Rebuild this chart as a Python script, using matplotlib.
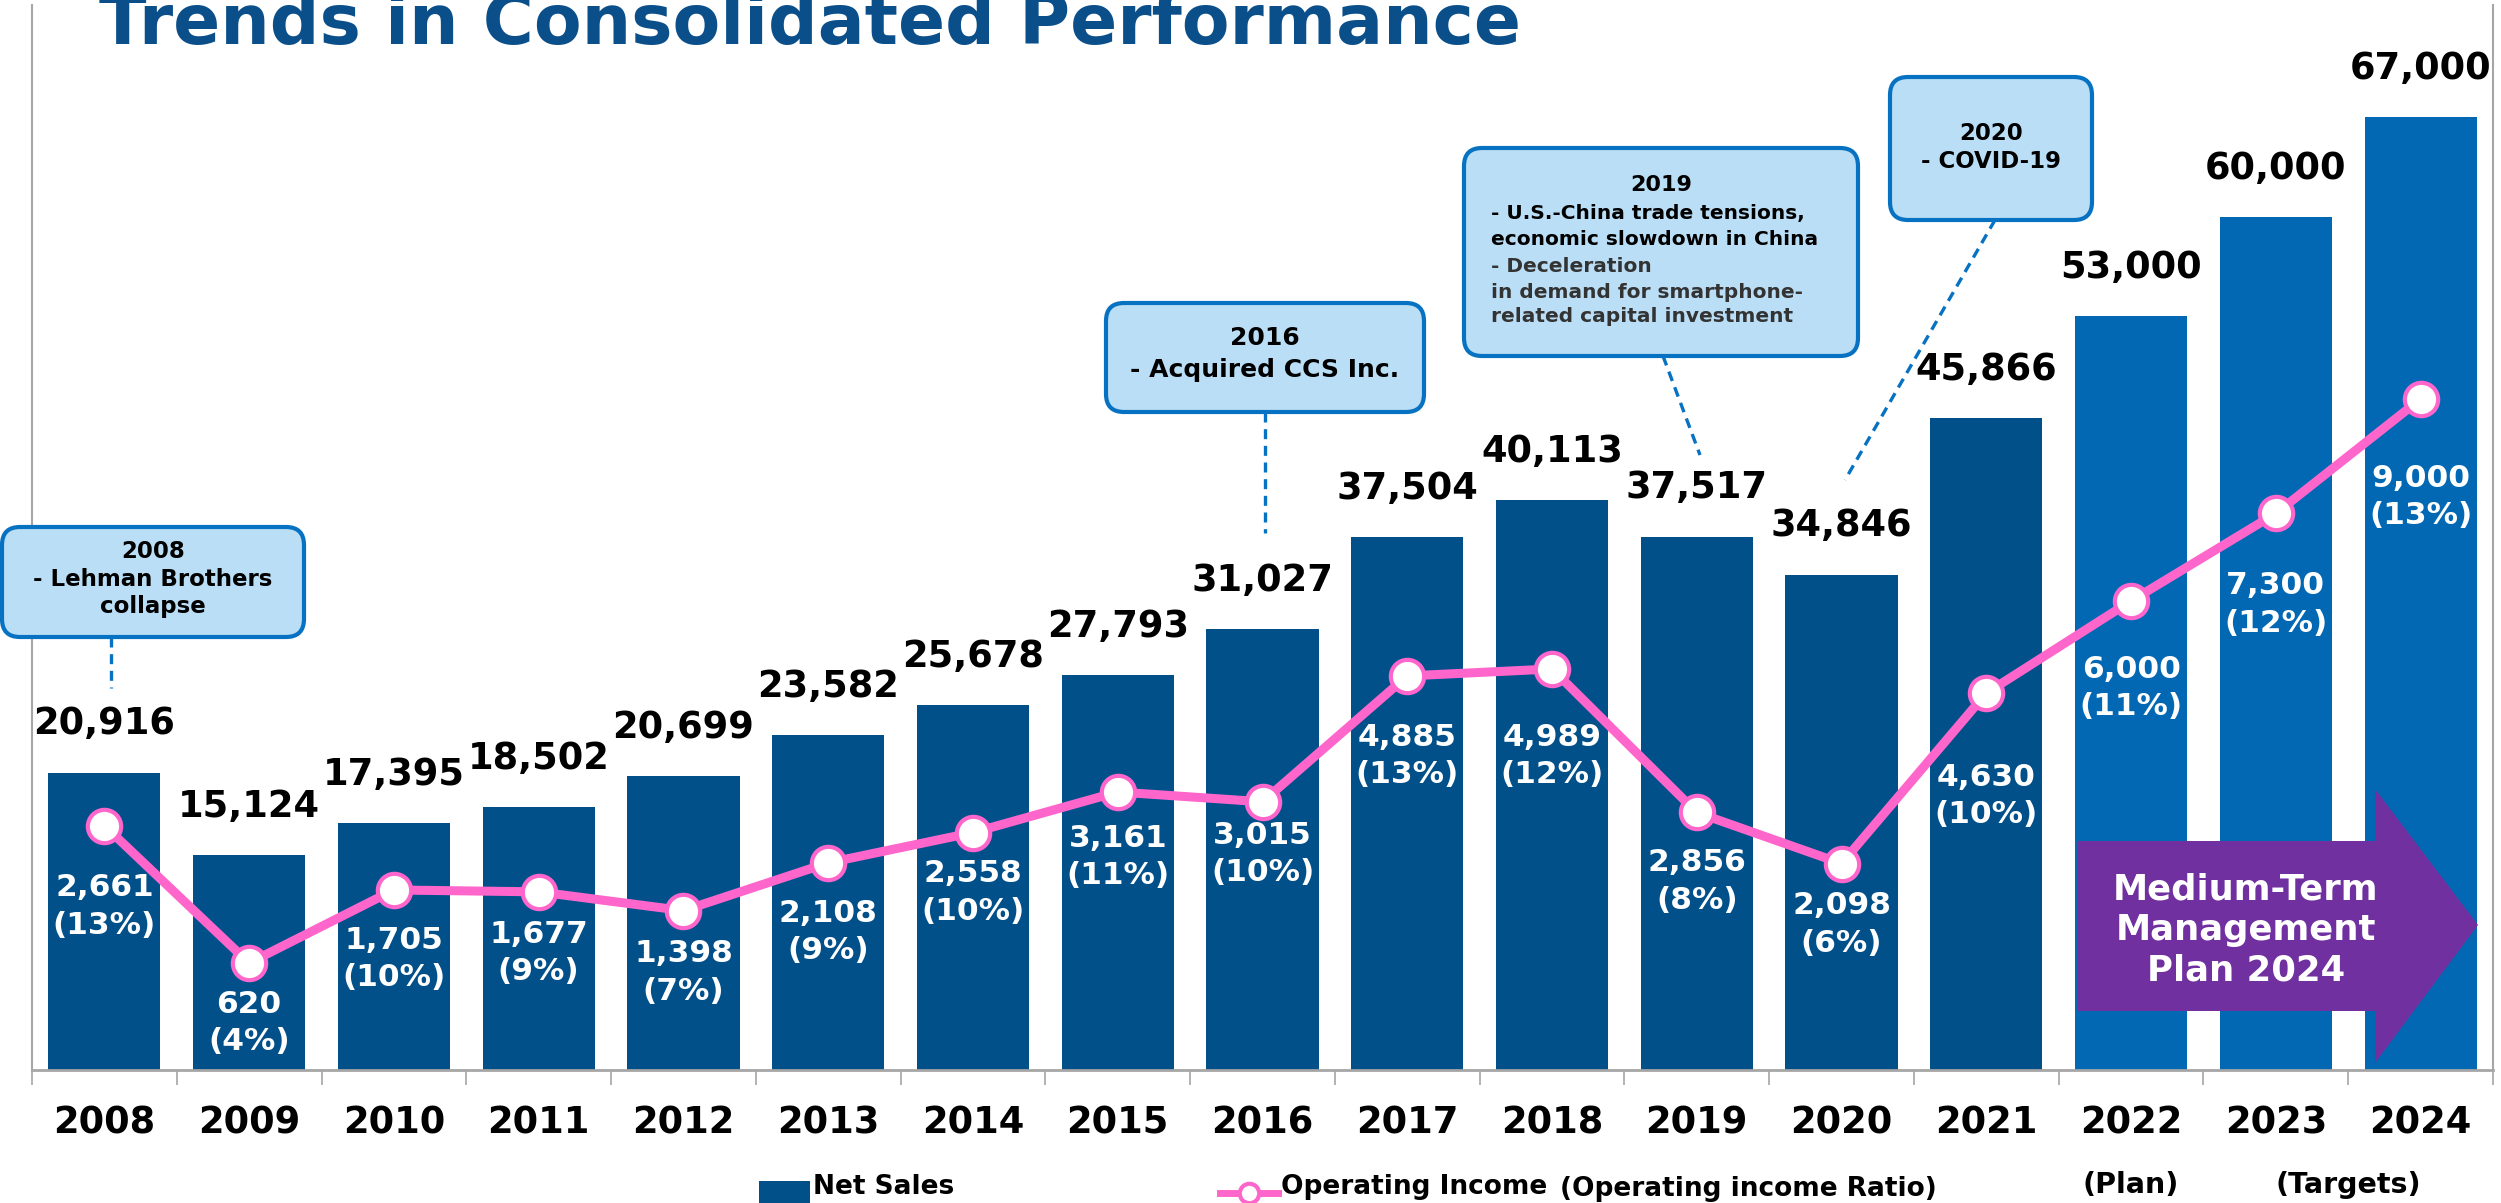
# -*- coding: utf-8 -*-
import matplotlib
matplotlib.use('Agg')
import matplotlib.pyplot as plt
from matplotlib.patches import FancyBboxPatch, Polygon, Rectangle
from matplotlib.lines import Line2D

# Chart data (JPY million)
years = ['2008', '2009', '2010', '2011', '2012', '2013', '2014', '2015', '2016',
         '2017', '2018', '2019', '2020', '2021', '2022', '2023', '2024']
net_sales = [20916, 15124, 17395, 18502, 20699, 23582, 25678, 27793, 31027,
             37504, 40113, 37517, 34846, 45866, 53000, 60000, 67000]
op_income = [2661, 620, 1705, 1677, 1398, 2108, 2558, 3161, 3015,
             4885, 4989, 2856, 2098, 4630, 6000, 7300, 9000]
op_ratio = [13, 4, 10, 9, 7, 9, 10, 11, 10, 13, 12, 8, 6, 10, 11, 12, 13]
n_actual = 14  # 2008-2021 are results, the rest are plan / targets
sub_labels = ['(Plan)', '(Targets)']
sub_label_pos = [14, 15.5]

# Colours
DARK = '#02508A'
PLAN = '#0368B4'
PINK = '#FF66CC'
GRAY = '#A6A6A6'
BOX_FILL = '#BADEF6'
BOX_EDGE = '#0872C2'
PURPLE = '#7030A0'

W, H = 2501, 1203
fig = plt.figure(figsize=(W / 100, H / 100), dpi=100)
px = fig.dpi_scale_trans  # 1 inch = 100 px, used for hand placed decorations


def inch(x, y):
    """ pixel position (from top left) to inches (from bottom left) """
    return x / 100, (H - y) / 100


# Axes: left/right spines at x=32/2493 px, baseline at y=1070 px
ax = fig.add_axes([32 / W, (H - 1070) / H, (2493 - 32) / W, (1070 - 5) / H])
x = list(range(len(years)))
colors = [DARK] * n_actual + [PLAN] * (len(years) - n_actual)
ax.bar(x, net_sales, width=0.775, color=colors, zorder=2)
ax.set_xlim(-0.5, len(years) - 0.5)
ax.set_ylim(0, 74900)

for i, v in enumerate(net_sales):
    ax.annotate(f'{v:,}', (i, v), xytext=(0, 35), textcoords='offset points',
                ha='center', va='center', fontsize=26.5, fontweight='bold', color='black')

# Spines and ticks
ax.spines['top'].set_visible(False)
for side in ['left', 'right']:
    ax.spines[side].set_color(GRAY)
    ax.spines[side].set_linewidth(1.5)
ax.spines['bottom'].set_color(GRAY)
ax.spines['bottom'].set_linewidth(2)
ax.set_yticks([])
ax.set_xticks([i - 0.5 for i in range(len(years) + 1)])
ax.set_xticklabels([])
ax.tick_params(axis='x', length=10.8, width=1.2, color=GRAY)

for i, year in enumerate(years):
    ax.annotate(year, (i, 0), xycoords=('data', 'axes fraction'), xytext=(0, -38),
                textcoords='offset points', ha='center', va='center',
                fontsize=26.5, fontweight='bold', color='black')
for label, pos in zip(sub_labels, sub_label_pos):
    ax.annotate(label, (pos, 0), xycoords=('data', 'axes fraction'), xytext=(0, -83),
                textcoords='offset points', ha='center', va='center',
                fontsize=20.5, fontweight='bold', color='black')

# Operating income line on its own scale
ax2 = ax.twinx()
ax2.set_ylim(-970, 14854)
ax2.axis('off')
ax2.plot(x, op_income, color=PINK, linewidth=6.5, marker='o', markersize=24,
         markerfacecolor='white', markeredgecolor=PINK, markeredgewidth=3, zorder=3)

# distance (px) from each point down to the first label line
label_drop = [61, 40, 49, 41, 42, 49, 40, 45, 32, 60, 67, 49, 41, 83, 67, 71, 78]
for i, (v, r) in enumerate(zip(op_income, op_ratio)):
    ax2.annotate(f'{v:,}\n({r}%)', (i, v), xytext=(0, -(label_drop[i] + 20) * 0.72),
                 textcoords='offset points', ha='center', va='center', linespacing=1.36,
                 fontsize=22.5, fontweight='bold', color='white', zorder=4)

# Title (cut at the top edge like the slide)
tx, ty = inch(99, 44)
fig.text(tx, ty, 'Trends in Consolidated Performance', transform=px, ha='left',
         va='baseline', fontsize=50, fontweight='bold', color='#0B4F8A')


# Event call-outs
def callout(x0, y0, x1, y1, line_from, line_to):
    bx, by = inch(x0, y1)
    box = FancyBboxPatch((bx, by), (x1 - x0) / 100, (y1 - y0) / 100,
                         boxstyle='round,pad=0,rounding_size=0.18', transform=px,
                         facecolor=BOX_FILL, edgecolor=BOX_EDGE, linewidth=3, zorder=5)
    fig.patches.append(box)
    (ax0, ay0), (ax1, ay1) = inch(*line_from), inch(*line_to)
    fig.lines.append(Line2D([ax0, ax1], [ay0, ay1], transform=px, color=BOX_EDGE,
                            linewidth=2.4, linestyle=(0, (3, 2)), zorder=4))


def box_text(xp, yp, s, size, ha='center', color='black'):
    tx, ty = inch(xp, yp)
    fig.text(tx, ty, s, transform=px, ha=ha, va='center', fontsize=size,
             fontweight='bold', color=color, zorder=6)


callout(2, 527, 304, 637, (111, 637), (111, 688))
box_text(153, 551, '2008', 16.5)
box_text(153, 580, '- Lehman Brothers', 16.5)
box_text(153, 607, 'collapse', 16.5)

callout(1106, 303, 1424, 412, (1265, 412), (1265, 533))
box_text(1265, 338, '2016', 18)
box_text(1265, 370, '- Acquired CCS Inc.', 18)

callout(1464, 148, 1858, 356, (1663, 356), (1700, 455))
box_text(1661, 185, '2019', 16)
box_text(1491, 214, '- U.S.-China trade tensions,', 14.5, ha='left')
box_text(1491, 240, 'economic slowdown in China', 14.5, ha='left')
box_text(1491, 266, '- Deceleration', 14.5, ha='left', color='#333333')
box_text(1491, 292, 'in demand for smartphone-', 14.5, ha='left', color='#333333')
box_text(1491, 317, 'related capital investment', 14.5, ha='left', color='#333333')

callout(1890, 77, 2092, 220, (1995, 220), (1845, 480))
box_text(1991, 133, '2020', 16.5)
box_text(1991, 162, '- COVID-19', 16.5)

# Medium-Term Management Plan arrow
arrow_px = [(2077, 841), (2375, 841), (2375, 789), (2478, 925),
            (2375, 1063), (2375, 1011), (2077, 1011)]
fig.patches.append(Polygon([inch(a, b) for a, b in arrow_px], closed=True,
                           transform=px, facecolor=PURPLE, edgecolor='none', zorder=5))
tx, ty = inch(2246, 930)
fig.text(tx, ty, 'Medium-Term\nManagement\nPlan 2024', transform=px, ha='center',
         va='center', fontsize=25.5, fontweight='bold', color='white', linespacing=1.25,
         zorder=6)

# Legend (drawn by hand, cut by the bottom edge like the original)
lx, ly = inch(759, 1205)
fig.patches.append(Rectangle((lx, ly), 0.51, 0.24, transform=px, facecolor=DARK,
                             edgecolor='none'))
tx, ty = inch(813, 1187)
fig.text(tx, ty, 'Net Sales', transform=px, ha='left', va='center', fontsize=19,
         fontweight='bold', color='black')
(l0, lyy), (l1, _) = inch(1220, 1193), inch(1278, 1193)
fig.lines.append(Line2D([l0, l1], [lyy, lyy], transform=px, color=PINK, linewidth=5))
fig.lines.append(Line2D([(l0 + l1) / 2], [lyy], transform=px, marker='o', markersize=14,
                        markerfacecolor='white', markeredgecolor=PINK, markeredgewidth=3))
tx, ty = inch(1281, 1187)
fig.text(tx, ty, 'Operating Income', transform=px, ha='left', va='center', fontsize=19,
         fontweight='bold', color='black')
tx, ty = inch(1560, 1189)
fig.text(tx, ty, '(Operating income Ratio)', transform=px, ha='left', va='center',
         fontsize=19, fontweight='bold', color='black')

fig.savefig('out.png', dpi=100)
